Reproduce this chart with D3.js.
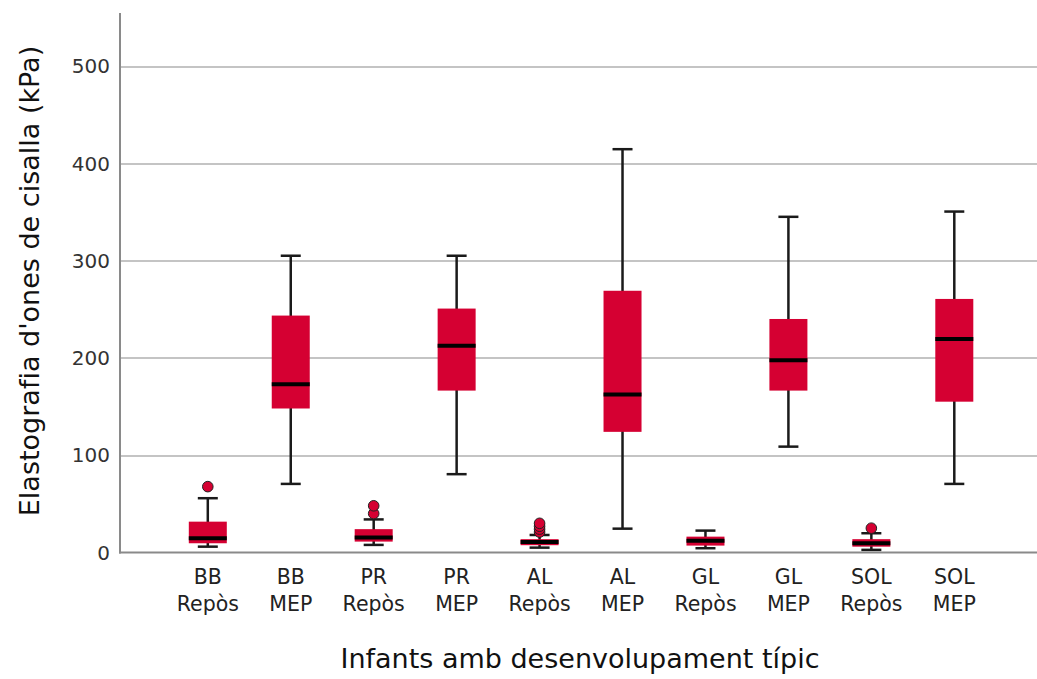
<!DOCTYPE html>
<html lang="ca">
<meta charset="utf-8">
<head>
  <title>Elastografia</title>
  <style>
  body { margin: 0; background: #fff; }
  svg { display: block; font-family: "DejaVu Sans", sans-serif; }
  .grid line { stroke: #c4c4c4; stroke-width: 2px; shape-rendering: crispEdges; }
  .grid path { display: none; }
  .axis-line { stroke: #8a8a8a; stroke-width: 2px; }
  .tick-y { font-size: 20px; fill: #333; }
  .tick-x { font-size: 20.5px; fill: #222; }
  .title { font-size: 27px; fill: #111; }
  .whisker { stroke: #1a1a1a; stroke-width: 2.5px; }
  .box { fill: #d50032; }
  .median { stroke: #000; stroke-width: 4px; }
  .outlier { fill: #d50032; stroke: #222; stroke-width: 1px; }
  </style>
</head>
<body>
<svg id="chart" width="1037" height="679"></svg>
<script src="https://cdn.jsdelivr.net/npm/d3@7"></script>
<script>

// data (kPa)
var muscles = ["BB", "PR", "AL", "GL", "SOL"];
var conditions = ["Repòs", "MEP"];
var whiskerLow  = [6,    70.5, 7.8,  80.5,  5,    24.5,  4.4,  108.8, 2.7,  70.5];
var q1          = [9.5,  148,  11.2, 166.4, 7.5,  124,   7.1,  166.4, 6,    155];
var median      = [14.7, 173,  15.3, 212.6, 10.8, 162.3, 12,   197.6, 9.5,  219.5];
var q3          = [31.7, 243.5, 24,  250.7, 13.7, 269,   16.3, 240,   13.7, 260.6];
var whiskerHigh = [55.8, 305,  34,   305,   18,   414.5, 22.5, 345,   19.8, 350.4];
var outliers    = [[67.7], [], [40, 48], [], [21, 24, 27, 30], [], [], [], [25], []];
var yTicks = [0, 100, 200, 300, 400, 500];

var categories = [];
muscles.forEach(function(m) {
  conditions.forEach(function(c) { categories.push({muscle: m, cond: c, id: m + " " + c}); });
});
var boxes = categories.map(function(c, i) {
  return {id: c.id, muscle: c.muscle, cond: c.cond,
    lo: whiskerLow[i], q1: q1[i], med: median[i], q3: q3[i], hi: whiskerHigh[i], out: outliers[i]};
});

var svg = d3.select("svg#chart"),
    plot = {left: 120, right: 1037, top: 13, bottom: 552.5};

var x = d3.scalePoint()
    .domain(categories.map(function(d) { return d.id; }))
    .range([207.8, 954.3]);

var y = d3.scaleLinear()
    .domain([0, 500])
    .range([plot.bottom, 66]);

var boxWidth = 38, capWidth = 20;

// gridlines
svg.append("g")
    .attr("class", "grid")
    .attr("transform", "translate(" + plot.left + ",0)")
    .call(d3.axisLeft(y).tickValues(yTicks.slice(1)).tickSize(-(plot.right - plot.left)).tickFormat(""));

// axis lines
svg.append("line").attr("class", "axis-line")
    .attr("x1", plot.left).attr("x2", plot.left)
    .attr("y1", plot.top).attr("y2", plot.bottom + 1);
svg.append("line").attr("class", "axis-line")
    .attr("x1", plot.left - 1).attr("x2", plot.right)
    .attr("y1", plot.bottom).attr("y2", plot.bottom);

// y tick labels
svg.selectAll(".tick-y")
  .data(yTicks)
  .enter().append("text")
    .attr("class", "tick-y")
    .attr("x", 110)
    .attr("y", function(d) { return y(d); })
    .attr("dy", "0.36em")
    .attr("text-anchor", "end")
    .text(function(d) { return d; });

// x tick labels, two lines
var xl = svg.selectAll(".tick-x")
  .data(categories)
  .enter().append("text")
    .attr("class", "tick-x")
    .attr("text-anchor", "middle")
    .attr("transform", function(d) { return "translate(" + x(d.id) + ",0)"; });
xl.append("tspan").attr("x", 0).attr("y", 584).text(function(d) { return d.muscle; });
xl.append("tspan").attr("x", 0).attr("y", 611).text(function(d) { return d.cond; });

// boxes
var g = svg.selectAll(".boxplot")
  .data(boxes)
  .enter().append("g")
    .attr("class", "boxplot")
    .attr("transform", function(d) { return "translate(" + x(d.id) + ",0)"; });

g.append("line").attr("class", "whisker")
    .attr("x1", 0).attr("x2", 0)
    .attr("y1", function(d) { return y(d.lo); })
    .attr("y2", function(d) { return y(d.hi); });

g.selectAll(".cap")
  .data(function(d) { return [d.lo, d.hi]; })
  .enter().append("line")
    .attr("class", "whisker cap")
    .attr("x1", -capWidth / 2).attr("x2", capWidth / 2)
    .attr("y1", function(v) { return y(v); })
    .attr("y2", function(v) { return y(v); });

g.append("rect").attr("class", "box")
    .attr("x", -boxWidth / 2)
    .attr("width", boxWidth)
    .attr("y", function(d) { return y(d.q3); })
    .attr("height", function(d) { return y(d.q1) - y(d.q3); });

g.append("line").attr("class", "median")
    .attr("x1", -boxWidth / 2).attr("x2", boxWidth / 2)
    .attr("y1", function(d) { return y(d.med); })
    .attr("y2", function(d) { return y(d.med); });

g.selectAll(".outlier")
  .data(function(d) { return d.out; })
  .enter().append("circle")
    .attr("class", "outlier")
    .attr("cx", 0)
    .attr("cy", function(v) { return y(v); })
    .attr("r", 5.3);

// axis titles
svg.append("text")
    .attr("class", "title")
    .attr("transform", "translate(30,281) rotate(-90)")
    .attr("text-anchor", "middle")
    .attr("dy", "0.35em")
    .text("Elastografia d'ones de cisalla (kPa)");

svg.append("text")
    .attr("class", "title")
    .attr("x", 580)
    .attr("y", 668)
    .attr("text-anchor", "middle")
    .text("Infants amb desenvolupament típic");

</script>
</body>
</html>
